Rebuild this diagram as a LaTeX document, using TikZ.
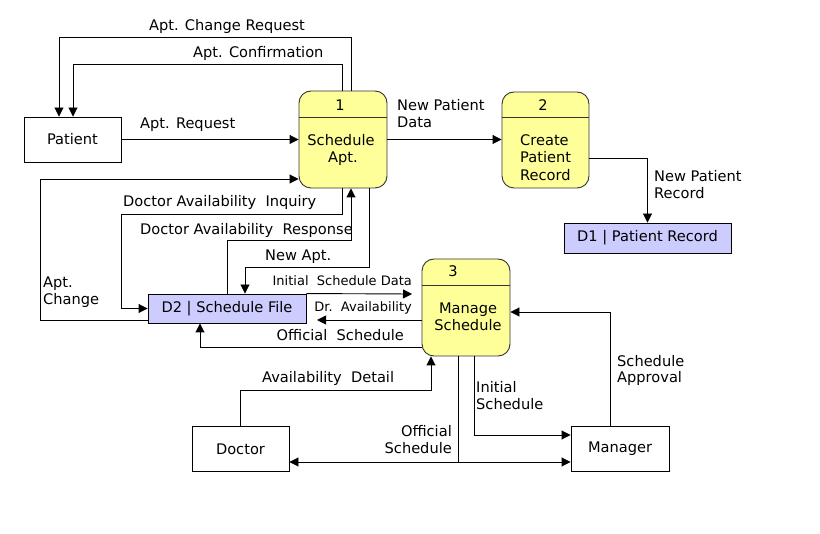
\documentclass[tikz,border=0pt]{standalone}
\usepackage{fontspec}
\setmainfont{DejaVu Sans}
\usetikzlibrary{arrows.meta}
\definecolor{procfill}{RGB}{255,255,153}
\definecolor{storefill}{RGB}{204,204,255}
\newcommand{\mfont}{\fontsize{14.6}{17}\selectfont}
\begin{document}
\begin{tikzpicture}[x=1pt,y=-1pt,
  ent/.style={draw=black,line width=0.9pt,fill=white,minimum width=97pt,minimum height=45pt,inner sep=0pt,font=\mfont},
  proc/.style={draw=black!80,line width=0.9pt,fill=procfill,rounded corners=12pt,minimum width=88pt,minimum height=97pt,inner sep=0pt},
  store/.style={draw=black,line width=0.9pt,fill=storefill,inner sep=0pt,font=\mfont},
  flow/.style={draw=black,line width=0.9pt,-{Triangle[length=9pt,width=9pt]}},
  biflow/.style={draw=black,line width=0.9pt,{Triangle[length=9pt,width=9pt]}-{Triangle[length=9pt,width=9pt]}},
  lab/.style={inner sep=0pt,anchor=base west,font=\mfont},
  labr/.style={inner sep=0pt,anchor=base east,font=\mfont},
  slab/.style={inner sep=0pt,anchor=base east,font=\fontsize{13}{16}\selectfont},
  ptxt/.style={inner sep=0pt,anchor=base,font=\mfont}]
\useasboundingbox (0,0) rectangle (820,534);
\fill[white] (0,0) rectangle (820,534);

% entities
\node[ent] (pat) at (72.5,139.5) {Patient};
\node[ent] (doc) at (240.5,449) {Doctor};
\node[ent,minimum width=98pt] (man) at (620,449) {Manager};

% processes
\node[proc] (p1) at (343,139.5) {};
\draw[line width=0.9pt,black!80] (p1.west |- 0,117) -- (p1.east |- 0,117);
\node[ptxt] (p1n) at (340,111) {1};
\node[ptxt] (p1a) at (341,146) {Schedule};
\node[ptxt] (p1b) at (343,163) {Apt.};

\node[proc,minimum width=87pt,minimum height=96pt] (p2) at (545.5,140) {};
\draw[line width=0.9pt,black!80] (p2.west |- 0,117) -- (p2.east |- 0,117);
\node[ptxt] (p2n) at (543,111) {2};
\node[lab] (p2a) at (520,146) {Create};
\node[lab] (p2b) at (520,163) {Patient};
\node[lab] (p2c) at (520,181) {Record};

\node[proc] (p3) at (466,307.5) {};
\draw[line width=0.9pt,black!80] (p3.west |- 0,285) -- (p3.east |- 0,285);
\node[ptxt] (p3n) at (453,277) {3};
\node[ptxt] (p3a) at (468,314) {Manage};
\node[ptxt] (p3b) at (468,331) {Schedule};

% stores
\node[store,minimum width=167pt,minimum height=30pt] (d1) at (647.5,238) {D1 | Patient Record};
\node[store,minimum width=158pt,minimum height=29pt] (d2) at (227,308.5) {D2 | Schedule File};

% free ends
\coordinate (isdEnd) at (412,294);
\coordinate (drEnd) at (317,320);

% connectors
\draw[flow] ([xshift=8pt]p1.north) -- ++(0,-53) -| ([xshift=-13.5pt]pat.north);
\draw[flow] ([xshift=-1pt]p1.north) -- ++(0,-26) -| ([xshift=0.5pt]pat.north);
\draw[flow] (pat.east) -- (p1.west);
\draw[flow] (p1.east) -- (p2.west |- p1.east);
\draw[flow] ([yshift=-18pt]p2.east) -| (d1.north);
\draw[flow] ([yshift=-11.5pt]d2.west) -- ++(-107,0) |- ([yshift=-39.5pt]p1.west);
\draw[flow] ([xshift=-1pt]p1.south) -- ++(0,26) -- ++(-221,0) |- (d2.west);
\draw[flow] (d2.north) -- ++(0,-53) -| ([xshift=8pt]p1.south);
\draw[flow] ([xshift=26pt]p1.south) -- ++(0,79) -| ([xshift=18pt]d2.north);
\draw[flow] (d2.north east) -- (isdEnd);
\draw[flow] ([yshift=-12.5pt]p3.west) -- (drEnd);
\draw[flow] ([yshift=-39.5pt]p3.west) -| ([xshift=-27pt]d2.south);
\draw[flow] (doc.north) -- ++(0,-36) -| ([xshift=-35pt]p3.south);
\draw[line width=0.9pt] ([xshift=-8pt]p3.south) -- ++(0,106);
\draw[biflow] ([yshift=-13pt]doc.east) -- ([yshift=-13pt]man.west);
\draw[flow] ([xshift=8pt]p3.south) |- ([yshift=14pt]man.west);
\draw[flow] ([xshift=-10pt]man.north) |- ([yshift=-4.5pt]p3.east);

% labels
\node[lab] (l1) at (149,31) {Apt. Change Request};
\node[lab] (l2) at (193,58) {Apt. Confirmation};
\node[lab] (l3) at (140,129) {Apt. Request};
\node[lab] (l4a) at (397,111) {New Patient};
\node[lab] (l4b) at (397,128) {Data};
\node[lab] (l5a) at (654,182) {New Patient};
\node[lab] (l5b) at (654,199) {Record};
\node[lab] (l6) at (123,207) {Doctor Availability\ \ Inquiry};
\node[lab] (l7) at (140,235) {Doctor Availability\ \ Response};
\node[lab] (l8) at (265,261) {New Apt.};
\node[lab] (l9a) at (43,288) {Apt.};
\node[lab] (l9b) at (43,305) {Change};
\node[slab] (l10) at (412,286) {Initial\ \ Schedule Data};
\node[slab] (l11) at (412,312) {Dr.\ \ Availability};
\node[labr] (l12) at (404,341) {Official\ \ Schedule};
\node[lab] (l13) at (262,383) {Availability\ \ Detail};
\node[labr] (l14a) at (452,437) {Official};
\node[labr] (l14b) at (452,454) {Schedule};
\node[lab] (l15a) at (476,393) {Initial};
\node[lab] (l15b) at (476,410) {Schedule};
\node[lab] (l16a) at (617,367) {Schedule};
\node[lab] (l16b) at (617,383) {Approval};
\end{tikzpicture}
\end{document}
